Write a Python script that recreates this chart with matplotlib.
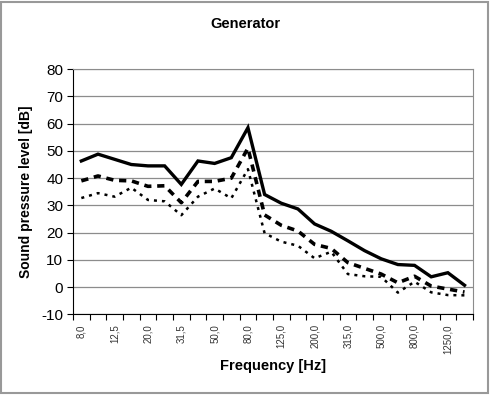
import numpy as np
import matplotlib
matplotlib.use('Agg')
import matplotlib.pyplot as plt
from matplotlib.patches import Rectangle

plt.rcParams['font.family'] = ['Liberation Sans', 'DejaVu Sans']
plt.rcParams['axes.unicode_minus'] = False

# third-octave band centres
freqs = ['8,0', '10,0', '12,5', '16,0', '20,0', '25,0', '31,5', '40,0',
         '50,0', '63,0', '80,0', '100,0', '125,0', '160,0', '200,0', '250,0',
         '315,0', '400,0', '500,0', '630,0', '800,0', '1000,0', '1250,0', '1600,0']

level_max = [46.3, 48.8, 46.9, 45.0, 44.5, 44.5, 37.7, 46.3, 45.4, 47.5, 58.5, 34.0,
             30.8, 28.7, 23.2, 20.5, 17.0, 13.4, 10.4, 8.3, 8.0, 3.8, 5.3, 0.7]
level_mid = [39.0, 40.8, 39.2, 39.0, 37.0, 37.2, 31.0, 38.8, 38.8, 40.0, 51.0, 26.5,
             22.7, 20.6, 15.7, 14.2, 9.0, 6.9, 4.8, 1.6, 4.0, 0.4, -0.7, -1.8]
level_min = [32.7, 34.5, 33.2, 36.5, 32.0, 31.5, 26.4, 33.2, 36.2, 32.6, 43.3, 19.8,
             16.7, 15.2, 10.6, 13.0, 4.8, 4.0, 3.8, -2.0, 2.0, -1.9, -2.9, -3.0]

x = np.arange(len(freqs))

fig = plt.figure(figsize=(4.9, 3.95), dpi=100)
fig.patches.append(Rectangle((0.003, 0.004), 0.992, 0.991, transform=fig.transFigure,
                             fill=False, edgecolor='#999999', linewidth=1.5))
ax = fig.add_axes([0.149, 0.204, 0.816, 0.621])

for yv in range(-10, 81, 10):
    ax.axhline(yv, color='#8c8c8c', linewidth=0.9, zorder=1)

ax.plot(x, level_max, color='black', linewidth=2.4, solid_joinstyle='miter', zorder=3)
ax.plot(x, level_mid, color='black', linewidth=2.6, linestyle=(0, (2.0, 1.6)), zorder=3)
ax.plot(x, level_min, color='black', linewidth=1.8, linestyle=(0, (1.2, 2.0)), zorder=3)

ax.set_xlim(-0.5, len(freqs) - 0.5)
ax.set_ylim(-10, 80)
ax.set_yticks(range(-10, 81, 10))
ax.set_xticks(x[::2])
ax.set_xticklabels(freqs[::2], rotation=90, fontsize=7, color='#333333')
ax.set_xticks(np.arange(-0.5, len(freqs)), minor=True)
ax.tick_params(axis='x', which='major', length=0, pad=7)
ax.tick_params(axis='x', which='minor', length=4, direction='out', width=0.8)
ax.tick_params(axis='y', length=4, direction='out', width=0.8, labelsize=11, pad=3)

for side in ['top', 'right']:
    ax.spines[side].set_color('#8c8c8c')
for side in ['left', 'bottom']:
    ax.spines[side].set_color('black')

ax.set_ylabel('Sound pressure level [dB]', fontsize=10, fontweight='bold', labelpad=6)
ax.set_xlabel('Frequency [Hz]', fontsize=10.5, fontweight='bold', labelpad=4)
fig.text(0.5, 0.94, 'Generator', ha='center', va='center', fontsize=10.5, fontweight='bold')

fig.savefig('out.png', dpi=100)
